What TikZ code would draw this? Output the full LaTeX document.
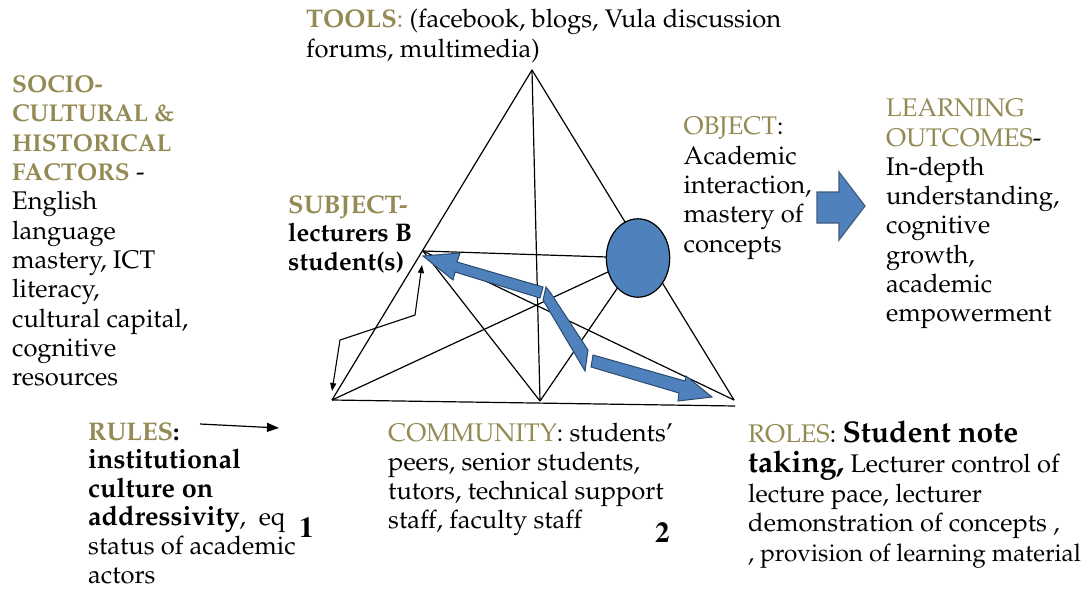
\documentclass[tikz,border=0pt]{standalone}
\usepackage[T1]{fontenc}
\renewcommand{\rmdefault}{ppl}
\usetikzlibrary{arrows.meta,shapes.geometric}
\definecolor{gold}{HTML}{948A54}
\definecolor{ablue}{HTML}{4F81BD}
\definecolor{aedge}{HTML}{2B4A70}
\newcommand\hdb[1]{\textcolor{gold}{\textbf{#1}}}
\newcommand\hds[1]{\textcolor{gold}{{\fontsize{24.3}{29.3}\selectfont\bfseries #1}}}
\newcommand\hdr[1]{\textcolor{gold}{#1}}
\newcommand\bigb[1]{{\fontsize{30}{29.4}\selectfont\bfseries #1}}
\newcommand\wideb[1]{{\fontsize{27}{29.3}\selectfont\bfseries #1}}
\begin{document}
\begin{tikzpicture}[x=1pt,y=-1pt,
  txt/.style={anchor=base west,inner sep=0pt,font=\fontsize{25.5}{29.3}\selectfont},
  numtxt/.style={anchor=base west,inner sep=0pt,font=\fontfamily{ptm}\fontsize{29}{30}\selectfont\bfseries},
  ln/.style={draw=black,line width=1.2pt},
  barrow/.style={fill=ablue,draw=aedge,line width=1pt,line join=miter},
  conn/.style={draw=black,line width=1.2pt,arrows={-{Triangle[length=12pt,width=9pt]}}},
  elb/.style={draw=black,line width=1.1pt,arrows={{Triangle[length=8pt,width=6pt]}-{Triangle[length=8pt,width=6pt]}}}]
\useasboundingbox (0,0) rectangle (1081,591);
\fill[white] (0,0) rectangle (1081,591);
% triangle points
\coordinate (T) at (532,70);
\coordinate (BL) at (332,400);
\coordinate (BR) at (734,400);
\coordinate (B2) at (735,406);
\coordinate (S) at (423,251);
\coordinate (M) at (540,401);
\coordinate (Oc) at (638,258);
% lines
\draw[ln] (T) -- (BL);
\draw[ln] (T) -- (BR);
\draw[ln] (BL) -- (B2);
\draw[ln] (T) -- (M);
\draw[ln] (S) -- (Oc);
\draw[ln] (S) -- (M);
\draw[ln] (S) -- (BR);
\draw[ln] (BL) -- (Oc);
\draw[ln] (M) -- (Oc);
\node[ellipse,draw=black,fill=ablue,line width=1.2pt,minimum width=63.4pt,minimum height=78.4pt,inner sep=0pt] (O) at (Oc) {};
% blue arrows
\draw[barrow] (423,256) -- (460,253) -- (457,262) -- (543,287) -- (540,298) -- (455,272) -- (453,280) -- cycle;
\draw[barrow] (546,287) -- (550,292) -- (588,350) -- (585,371) -- (543,300) -- cycle;
\draw[barrow] (593,355) -- (685,381) -- (686,376) -- (712,397) -- (678,401) -- (679,393) -- (591,367) -- cycle;
\draw[fill=ablue,draw=aedge!90,line width=1.2pt] (817,192) -- (839,192) -- (839,172) -- (865,206) -- (839,240) -- (839,223) -- (817,223) -- cycle;
% elbow connector
\coordinate (e1) at (422,265);
\coordinate (e2) at (415,315);
\coordinate (e3) at (340,340);
\coordinate (e4) at (332,391);
\draw[elb] (e1) -- (e2) -- (e3) -- (e4);
% rules arrow
\coordinate (r1) at (200,424);
\coordinate (r2) at (279,428);
\draw[conn] (r1) -- (r2);
% texts
\node[txt] (tools) at (306,28) {\begin{tabular}[t]{@{}l@{}}\hdb{TOOLS}\hdr{:} (facebook, blogs, Vula discussion\\ forums, multimedia)\end{tabular}};
\node[txt] (socio) at (12,92.7) {\begin{tabular}[t]{@{}l@{}}\hds{SOCIO-}\\ \hds{CULTURAL \&}\\ \hds{HISTORICAL}\\ \hds{FACTORS} -\\ English\\ language\\ mastery, ICT\\ literacy,\\ cultural capital,\\ cognitive\\ resources\end{tabular}};
\node[txt,font=\fontsize{25.5}{28.8}\selectfont] (subject) at (288,213) {\begin{tabular}[t]{@{}l@{}}\hdb{SUBJECT-}\\ \textbf{lecturers B}\\ \textbf{student(s)}\end{tabular}};
\node[txt] (object) at (683.5,135) {\begin{tabular}[t]{@{}l@{}}\hdr{OBJECT}:\\ Academic\\ interaction,\\ mastery of\\ concepts\end{tabular}};
\node[txt] (learn) at (886,116.7) {\begin{tabular}[t]{@{}l@{}}\hdr{LEARNING}\\ \hdr{OUTCOMES}-\\ In-depth\\ understanding,\\ cognitive\\ growth,\\ academic\\ empowerment\end{tabular}};
\node[txt] (rules) at (88,440) {\vtop{\baselineskip=28.6pt\lineskiplimit=-20pt
  \hbox{\hdb{RULES}\textbf{:}}\hbox{\wideb{institutional}}\hbox{\wideb{culture on}}\hbox{\wideb{addressivity}, \ eq}\hbox{status of academic}\hbox{actors}}};
\node[txt] (comm) at (388,441) {\begin{tabular}[t]{@{}l@{}}\hdr{COMMUNITY}: students'\\ peers, senior students,\\ tutors, technical support\\ staff, faculty staff\end{tabular}};
\node[txt,font=\fontsize{25.5}{29.5}\selectfont] (roles) at (748,442) {\begin{tabular}[t]{@{}l@{}}\hdr{ROLES}: \bigb{Student note}\\ \bigb{taking,} Lecturer control of\\ lecture pace, lecturer\\ demonstration of concepts ,\\ {\fontsize{24.3}{29.5}\selectfont , provision of learning material}\end{tabular}};
\node[numtxt] (one) at (299,537) {1};
\node[numtxt] (two) at (655,542) {2};
\end{tikzpicture}
\end{document}
